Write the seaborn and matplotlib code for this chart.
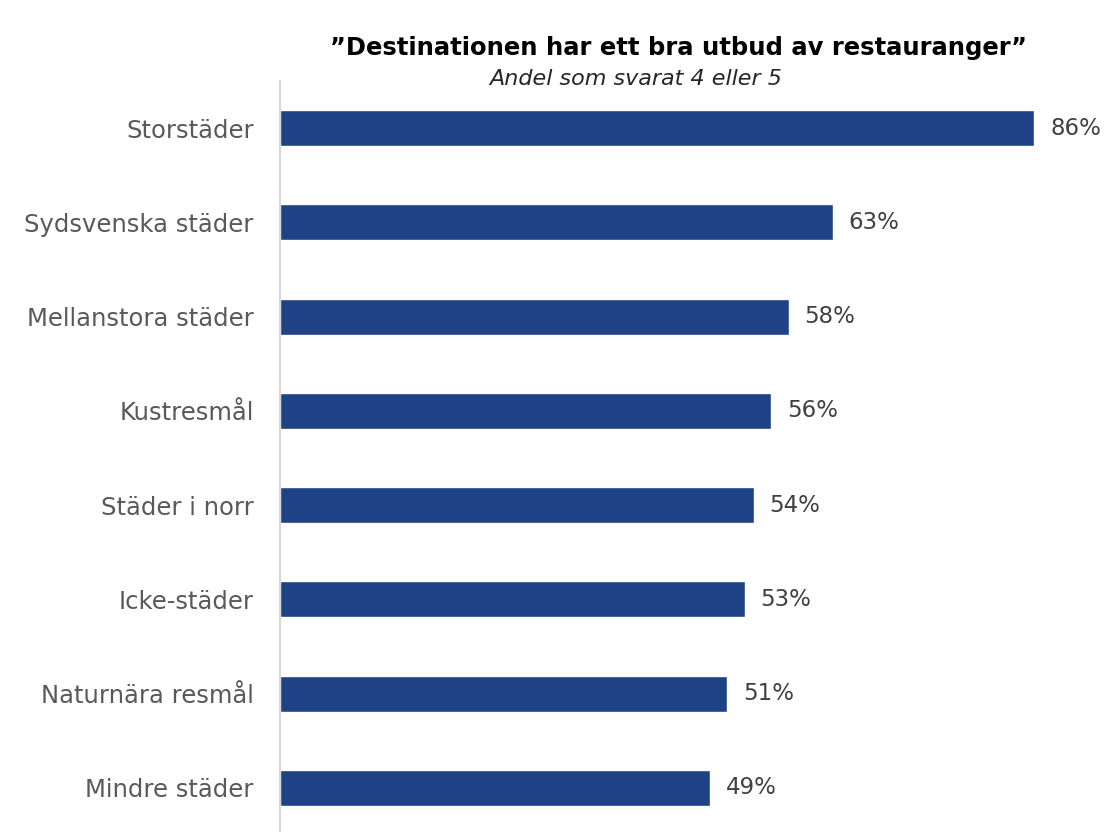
import matplotlib
matplotlib.use("Agg")
import matplotlib.pyplot as plt
import seaborn as sns
import pandas as pd

categories = ["Storstäder", "Sydsvenska städer", "Mellanstora städer", "Kustresmål",
              "Städer i norr", "Icke-städer", "Naturnära resmål", "Mindre städer"]
values = [86, 63, 58, 56, 54, 53, 51, 49]
title = "\u201dDestinationen har ett bra utbud av restauranger\u201d"
subtitle = "Andel som svarat 4 eller 5"

sns.set_theme(style="white")
plt.rcParams['font.family'] = ['DejaVu Sans']

df = pd.DataFrame({"cat": categories, "val": values})

fig = plt.figure(figsize=(11.08, 8.32), dpi=100)
ax = fig.add_axes([280/1108, 1-835/832, 820/1108, 754/832])
sns.barplot(data=df, x="val", y="cat", color="#1F4287", width=0.38, ax=ax, saturation=1)
ax.set_xlim(0, 820/8.77)
ax.set_ylim(7.5, -0.5)
ax.set_xlabel("")
ax.set_ylabel("")
ax.set_xticks([])
for s in ["top", "right", "bottom"]:
    ax.spines[s].set_visible(False)
ax.spines["left"].set_color("#D0D0D0")
ax.spines["left"].set_linewidth(1.2)
ax.tick_params(axis="y", length=0, pad=19, labelsize=17.5, labelcolor="#595959")
for i, v in enumerate(values):
    ax.text(v + 1.8, i, f"{v}%", va="center", ha="left", fontsize=16.5, color="#404040")

fig.text(679/1108, 1-48/832, title, ha="center", va="center", fontsize=17.5, fontweight="bold", color="#000000")
fig.text(636/1108, 1-79/832, subtitle, ha="center", va="center", fontsize=16, style="italic", color="#262626")

fig.savefig("out.png", dpi=100)
